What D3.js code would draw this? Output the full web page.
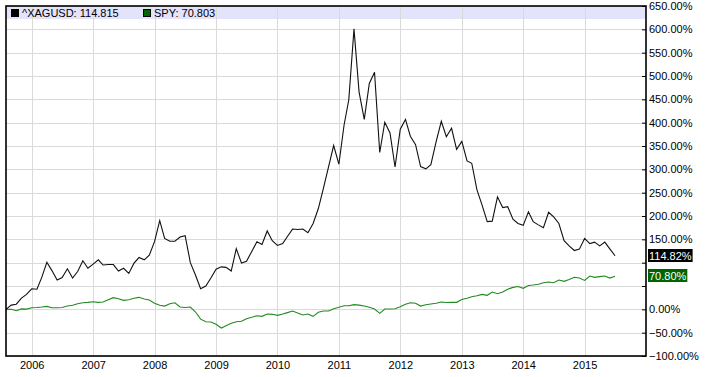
<!DOCTYPE html>
<html>
<head>
<meta charset="utf-8">
<script src="https://cdn.jsdelivr.net/npm/d3@7"></script>
<style>
  body { margin: 0; background: #fff; }
  text { font-family: "Liberation Sans", Arial, sans-serif; font-size: 11px; }
</style>
</head>
<body>
<div id="chart"></div>
<script>
//chart size (in pixels)
var width = 705,
    height = 377;

//plot box (don't call it "top", window.top is read only)
var plotLeft = 6, plotRight = 646, plotTop = 6, plotBottom = 356;

//monthly closes, first one is Aug 2005
var firstMonth = new Date(2005, 7, 1);

//^XAGUSD % change
var silver = [0, 9, 11, 24, 32, 44, 43, 68, 101, 83,
    63, 68, 87, 67, 81, 104, 88, 97, 106, 95,
    96, 96, 82, 88, 77, 99, 111, 106, 116, 145,
    190, 152, 146, 146, 155, 158, 100, 73, 44, 50,
    67, 86, 91, 90, 82, 130, 99, 103, 124, 145,
    139, 168, 147, 137, 141, 156, 172, 171, 172, 164,
    184, 216, 259, 306, 351, 311, 395, 449, 601, 466,
    407, 484, 508, 336, 401, 378, 305, 386, 407, 371,
    353, 306, 301, 310, 359, 403, 370, 388, 343, 360,
    318, 313, 256, 224, 188, 189, 241, 218, 220, 193,
    184, 180, 209, 188, 181, 175, 208, 198, 184, 147,
    136, 126, 129, 152, 141, 144, 136, 144, 129, 114.82];

//SPY % change
var spy = [0, 0, -3, 1, 0.5, 3.5, 4, 5, 6.4, 3.5,
    3.5, 4, 7, 8.6, 12, 14, 15, 16.3, 15, 15.7,
    20.6, 25, 22.7, 19.3, 20.6, 23.6, 25.7, 22, 20, 12.9,
    8.6, 7, 12, 14, 5, 4, 5, -5.8, -21, -26.6,
    -27, -32, -40, -35, -30, -26.6, -25.7, -20, -17, -13.7,
    -15, -10, -10.7, -12.9, -10, -7, -3.6, -7.9, -12, -10,
    -15, -6.4, -3.6, -3.6, 1.4, 4.3, 7.7, 7.7, 10, 9,
    7, 4.3, 0.6, -8.6, 0.6, 0.6, 1.4, 5.6, 10.7, 14,
    12.9, 7, 10, 11.4, 12.9, 15.6, 14.5, 15, 15, 21,
    23.6, 27, 29, 32, 30, 37, 33.4, 37, 43, 47,
    49, 45, 51, 52, 53.6, 57, 58.5, 57, 62.8, 60,
    64, 68.6, 67, 62, 71.4, 68.6, 70, 71.4, 67, 70.80];

var yTicks = [-100, -50, 0, 50, 100, 150, 200, 250, 300, 350, 400, 450, 500, 550, 600, 650];
var hiddenTicks = [50, 100]; //covered by the last value boxes
var xYears = [2006, 2007, 2008, 2009, 2010, 2011, 2012, 2013, 2014, 2015];

var legendNames = ["^XAGUSD: 114.815", "SPY: 70.803"];
var lastLabels = ["114.82%", "70.80%"];

//scales
var x = d3.scaleTime()
    .domain([firstMonth, new Date(2016, 0, 1)])
    .range([plotLeft, plotRight]);

var y = d3.scaleLinear()
    .domain([-100, 650])
    .range([plotBottom, plotTop]);

var svg = d3.select("#chart").append("svg")
    .attr("width", width)
    .attr("height", height);

//legend band behind the grid
svg.append("rect")
    .attr("x", plotLeft).attr("y", plotTop + 1)
    .attr("width", plotRight - plotLeft).attr("height", 12)
    .attr("fill", "#e3e3fb");

//grid
var grid = svg.append("g").attr("stroke", "#dadada").attr("stroke-width", 1);
grid.selectAll("line.h")
    .data(yTicks)
    .enter().append("line")
    .attr("class", "h")
    .attr("x1", plotLeft).attr("x2", plotRight)
    .attr("y1", function(d){ return Math.round(y(d)) + 0.5; })
    .attr("y2", function(d){ return Math.round(y(d)) + 0.5; });
grid.selectAll("line.v")
    .data(xYears)
    .enter().append("line")
    .attr("class", "v")
    .attr("x1", function(d){ return Math.round(x(new Date(d, 0, 1))) + 0.5; })
    .attr("x2", function(d){ return Math.round(x(new Date(d, 0, 1))) + 0.5; })
    .attr("y1", plotTop).attr("y2", plotBottom);

//lines
var line = d3.line()
    .x(function(d, i){ return x(d3.timeMonth.offset(firstMonth, i)); })
    .y(function(d){ return y(d); });

svg.append("path")
    .datum(spy)
    .attr("d", line)
    .attr("fill", "none")
    .attr("stroke", "#218a21")
    .attr("stroke-width", 1.1);

svg.append("path")
    .datum(silver)
    .attr("d", line)
    .attr("fill", "none")
    .attr("stroke", "#111")
    .attr("stroke-width", 1.1);

//frame
svg.append("rect")
    .attr("x", plotLeft).attr("y", plotTop)
    .attr("width", plotRight - plotLeft).attr("height", plotBottom - plotTop)
    .attr("fill", "none")
    .attr("stroke", "#000")
    .attr("stroke-width", 1.6);

//right axis
var yAxis = d3.axisRight(y)
    .tickValues(yTicks)
    .tickSizeInner(0)
    .tickSizeOuter(0)
    .tickPadding(3)
    .tickFormat(function(d){ return hiddenTicks.indexOf(d) >= 0 ? "" : d3.format(".2f")(d) + "%"; });

var ya = svg.append("g")
    .attr("transform", "translate(" + plotRight + ",0)")
    .call(yAxis);
ya.select(".domain").remove();
ya.selectAll("text").attr("font-family", null).attr("font-size", null).attr("fill", "#000");
ya.selectAll(".tick").append("line")
    .attr("x1", -4).attr("x2", 0)
    .attr("stroke", "#000");

//bottom axis
var xAxis = d3.axisBottom(x)
    .tickValues(xYears.map(function(d){ return new Date(d, 0, 1); }))
    .tickSize(0)
    .tickPadding(5)
    .tickFormat(d3.timeFormat("%Y"));

var xa = svg.append("g")
    .attr("transform", "translate(0," + plotBottom + ")")
    .call(xAxis);
xa.select(".domain").remove();
xa.selectAll("text").attr("font-family", null).attr("font-size", null).attr("fill", "#000");

//legend
var legendX = [11, 143];
var legendColors = ["#000", "#006400"];
var legend = svg.selectAll("g.legend")
    .data(legendNames)
    .enter().append("g")
    .attr("class", "legend")
    .attr("transform", function(d, i){ return "translate(" + legendX[i] + ",0)"; });
legend.append("rect")
    .attr("x", 0.5).attr("y", 9.5)
    .attr("width", 7).attr("height", 7)
    .attr("fill", function(d, i){ return legendColors[i]; })
    .attr("stroke", "#000");
legend.append("text")
    .attr("x", 11).attr("y", 17)
    .text(function(d){ return d; });

//last value boxes
var lastValues = [silver[silver.length - 1], spy[spy.length - 1]];
var boxColors = ["#000", "#006400"];
var boxes = svg.selectAll("g.last")
    .data(lastLabels)
    .enter().append("g")
    .attr("class", "last")
    .attr("transform", function(d, i){ return "translate(648," + Math.round(y(lastValues[i])) + ")"; });
boxes.append("text")
    .attr("x", 1).attr("y", 4)
    .attr("fill", "#fff")
    .text(function(d){ return d; })
    .each(function(d, i){
        var w = this.getComputedTextLength();
        d3.select(this.parentNode).insert("rect", "text")
            .attr("x", 0).attr("y", -7)
            .attr("width", w + 2).attr("height", 13)
            .attr("fill", boxColors[i]);
    });
</script>
</body>
</html>
